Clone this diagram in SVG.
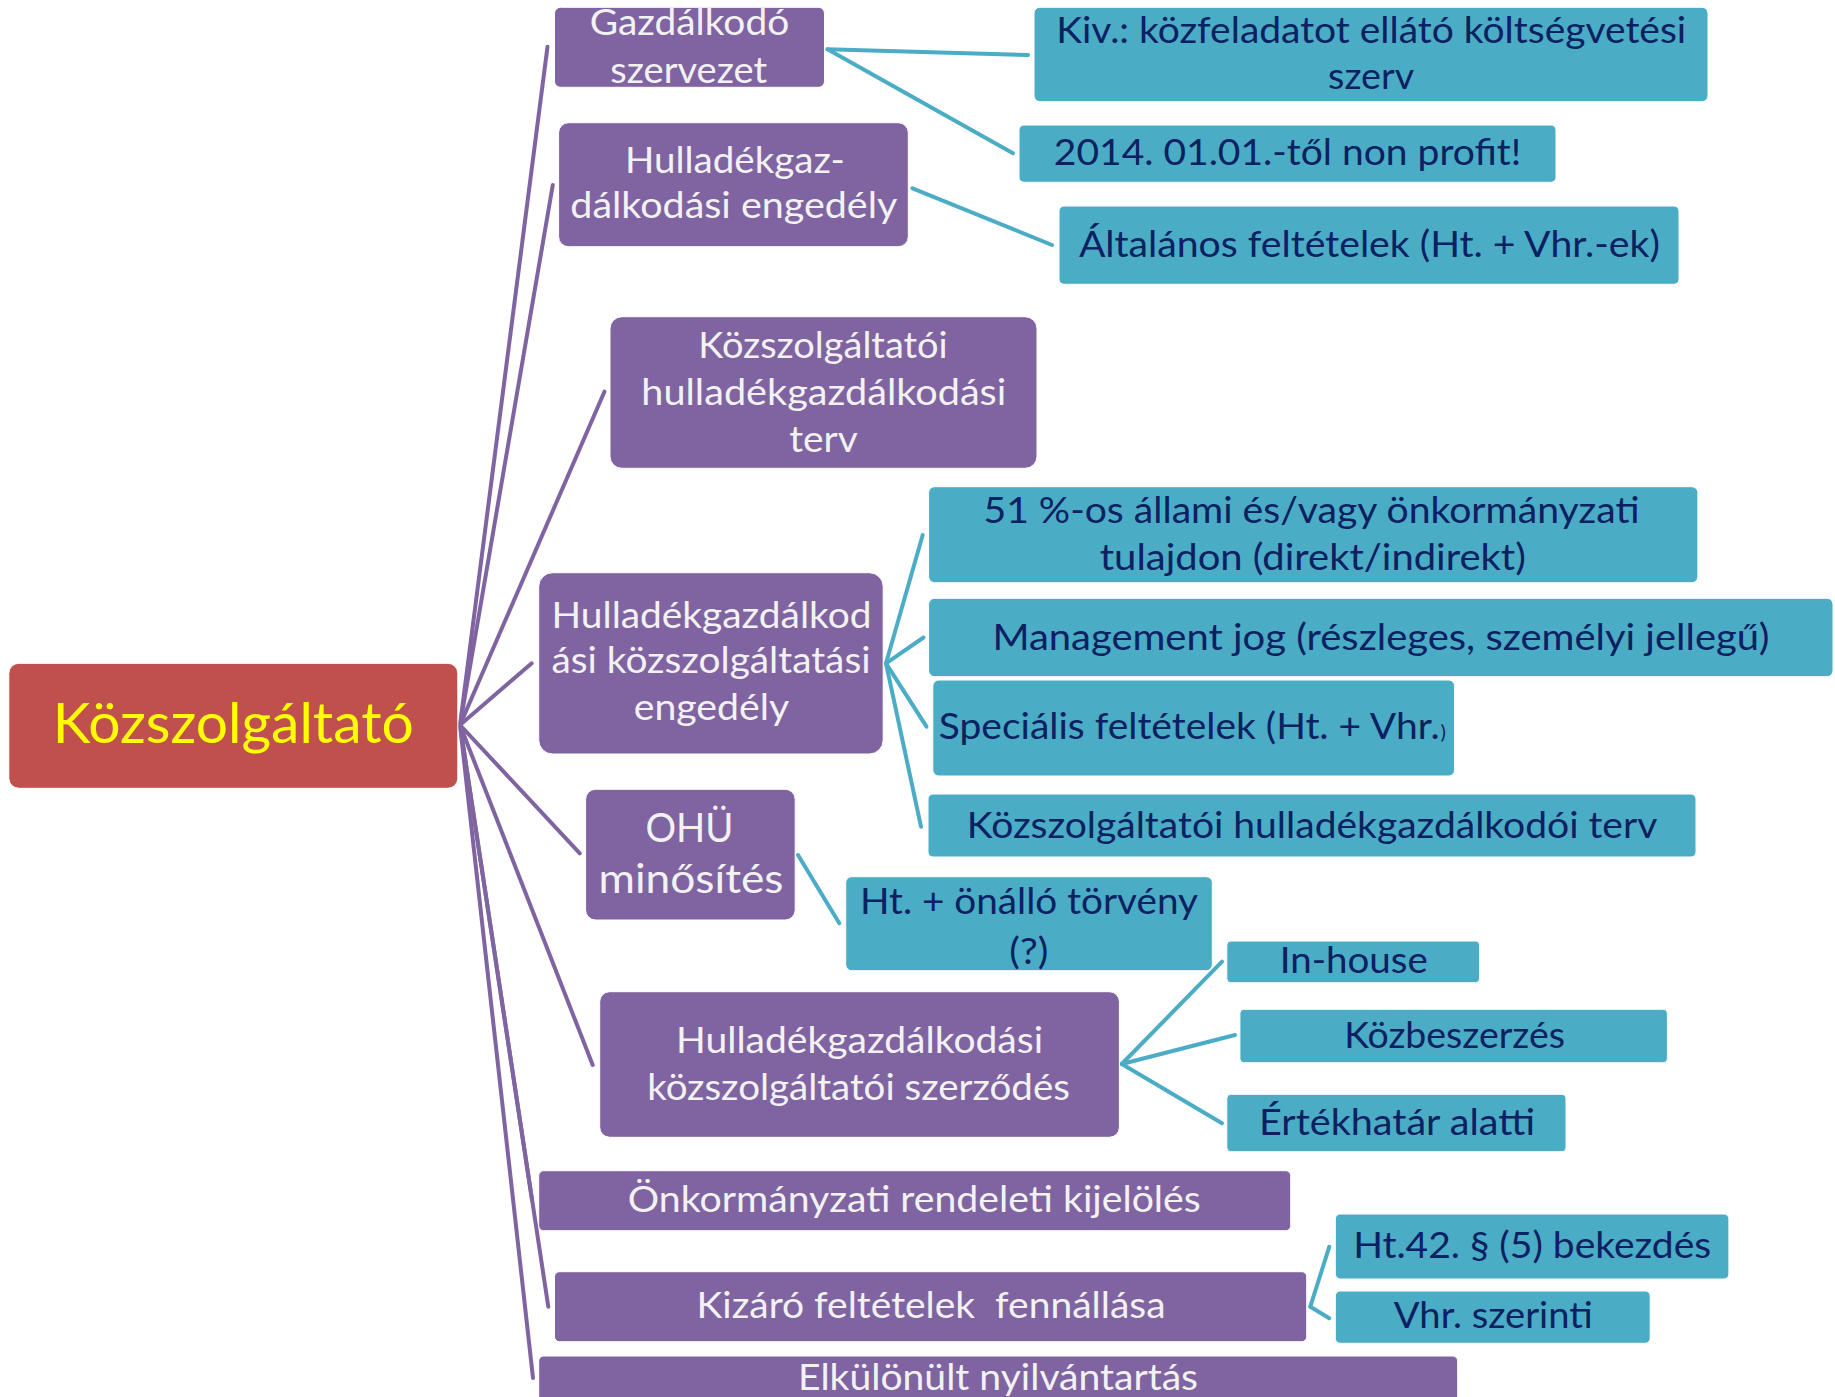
<svg xmlns="http://www.w3.org/2000/svg" width="1835" height="1397" viewBox="0 0 1835 1397">
<style>
.p{fill:#8064A2;stroke:#ffffff;stroke-width:1}
.r{fill:#C0504D;stroke:#ffffff;stroke-width:1}
.c{fill:#4BACC6;stroke:#ffffff;stroke-width:1}
.pl{stroke:#8064A2;stroke-width:4;fill:none;stroke-linecap:round}
.cl{stroke:#4BACC6;stroke-width:4;fill:none;stroke-linecap:round}
text{font-family:Lato,"Open Sans","Liberation Sans",sans-serif;font-size:36px}
.pt{fill:#F2F2F2}
.ct{fill:#0B2161}
</style>
<rect width="1835" height="1397" fill="#ffffff"/>
<g id="connectors">
<line class="pl" x1="460" y1="725" x2="547.5" y2="46.7"/>
<line class="pl" x1="460" y1="725" x2="552.8" y2="185"/>
<line class="pl" x1="460" y1="725" x2="604.4" y2="391.7"/>
<line class="pl" x1="460" y1="725" x2="531.7" y2="663.3"/>
<line class="pl" x1="460" y1="725" x2="579.8" y2="853.3"/>
<line class="pl" x1="460" y1="725" x2="592.7" y2="1065"/>
<line class="pl" x1="460" y1="725" x2="532" y2="1200"/>
<line class="pl" x1="460" y1="725" x2="548.3" y2="1306.7"/>
<line class="pl" x1="460" y1="725" x2="533" y2="1378"/>
<line class="cl" x1="827.5" y1="49.3" x2="1028" y2="55"/>
<line class="cl" x1="827.5" y1="49.3" x2="1013" y2="153.3"/>
<line class="cl" x1="912.5" y1="188.3" x2="1052" y2="245"/>
<line class="cl" x1="886" y1="663.3" x2="922.7" y2="535"/>
<line class="cl" x1="886" y1="663.3" x2="923.5" y2="637.5"/>
<line class="cl" x1="886" y1="663.3" x2="926.5" y2="726.7"/>
<line class="cl" x1="886" y1="663.3" x2="921" y2="826.7"/>
<line class="cl" x1="798" y1="855" x2="839.3" y2="923.3"/>
<line class="cl" x1="1121.8" y1="1064" x2="1222" y2="961.7"/>
<line class="cl" x1="1121.8" y1="1064" x2="1235" y2="1035"/>
<line class="cl" x1="1121.8" y1="1064" x2="1222" y2="1123.3"/>
<line class="cl" x1="1310.3" y1="1306.7" x2="1329.3" y2="1246.7"/>
<line class="cl" x1="1310.3" y1="1306.7" x2="1329.3" y2="1318.3"/>
</g>
<g id="root">
<rect class="r" x="8.8" y="663.3" width="449" height="125" rx="10"/>
<text x="52.8" y="743.3" style="font-size:57px;fill:#FFFF00" textLength="361" lengthAdjust="spacingAndGlyphs">Közszolgáltató</text>
</g>
<g id="n-gazdalkodo">
<rect class="p" x="554.5" y="7.3" width="270" height="80" rx="6"/>
<text class="pt" x="589.7" y="35" textLength="199.5" lengthAdjust="spacingAndGlyphs">Gazdálkodó</text>
<text class="pt" x="610.2" y="82.7" textLength="157" lengthAdjust="spacingAndGlyphs">szervezet</text>
</g>
<g id="n-hulladekgaz">
<rect class="p" x="558.6" y="122.7" width="349.7" height="124" rx="10"/>
<text class="pt" x="624.9" y="173.3" textLength="220" lengthAdjust="spacingAndGlyphs">Hulladékgaz-</text>
<text class="pt" x="570.3" y="218.3" textLength="327" lengthAdjust="spacingAndGlyphs">dálkodási engedély</text>
</g>
<g id="n-kozszolg-terv">
<rect class="p" x="610" y="316.7" width="427" height="151.6" rx="12"/>
<text class="pt" x="698.2" y="358.3" textLength="249.5" lengthAdjust="spacingAndGlyphs">Közszolgáltatói</text>
<text class="pt" x="641.3" y="405" textLength="365" lengthAdjust="spacingAndGlyphs">hulladékgazdálkodási</text>
<text class="pt" x="789.2" y="451.7" textLength="68.6" lengthAdjust="spacingAndGlyphs">terv</text>
</g>
<g id="n-engedely">
<rect class="p" x="538.7" y="572.7" width="344.5" height="181.3" rx="14"/>
<text class="pt" x="551.5" y="628.3" textLength="320" lengthAdjust="spacingAndGlyphs">Hulladékgazdálkod</text>
<text class="pt" x="551.5" y="673.3" textLength="319" lengthAdjust="spacingAndGlyphs">ási közszolgáltatási</text>
<text class="pt" x="633.7" y="720" textLength="155.5" lengthAdjust="spacingAndGlyphs">engedély</text>
</g>
<g id="n-ohu">
<rect class="p" x="585.6" y="789.3" width="209.6" height="130.7" rx="10"/>
<text class="pt" x="645.4" y="841.7" style="font-size:40px" textLength="88" lengthAdjust="spacingAndGlyphs">OHÜ</text>
<text class="pt" x="598.5" y="893.3" style="font-size:40px" textLength="185" lengthAdjust="spacingAndGlyphs">minősítés</text>
</g>
<g id="n-szerzodes">
<rect class="p" x="599.7" y="991.7" width="519.7" height="145.6" rx="10"/>
<text class="pt" x="676" y="1053.3" textLength="367" lengthAdjust="spacingAndGlyphs">Hulladékgazdálkodási</text>
<text class="pt" x="647.2" y="1100" textLength="422.7" lengthAdjust="spacingAndGlyphs">közszolgáltatói szerződés</text>
</g>
<g id="n-onkorm">
<rect class="p" x="538.7" y="1170.7" width="752" height="60" rx="5"/>
<text class="pt" x="627.8" y="1211.7" textLength="573" lengthAdjust="spacingAndGlyphs">Önkormányzati rendeleti kijelölés</text>
</g>
<g id="n-kizaro">
<rect class="p" x="554.5" y="1271.7" width="752.2" height="70" rx="5"/>
<text class="pt" x="696.5" y="1318.3" textLength="469" lengthAdjust="spacingAndGlyphs" xml:space="preserve">Kizáró feltételek  fennállása</text>
</g>
<g id="n-elkulonult">
<rect class="p" x="538.7" y="1356" width="919" height="60" rx="5"/>
<text class="pt" x="798" y="1390" textLength="400" lengthAdjust="spacingAndGlyphs">Elkülönült nyilvántartás</text>
</g>
<g id="n-kiv">
<rect class="c" x="1034" y="7.3" width="674" height="94.4" rx="6"/>
<text class="ct" x="1056.2" y="43.3" textLength="630" lengthAdjust="spacingAndGlyphs">Kiv.: közfeladatot ellátó költségvetési</text>
<text class="ct" x="1328.1" y="89.3" textLength="86" lengthAdjust="spacingAndGlyphs">szerv</text>
</g>
<g id="n-2014">
<rect class="c" x="1019" y="125" width="537" height="57.3" rx="5"/>
<text class="ct" x="1053.8" y="165" textLength="467.5" lengthAdjust="spacingAndGlyphs">2014. 01.01.-től non profit!</text>
</g>
<g id="n-altalanos">
<rect class="c" x="1059" y="206" width="620" height="78.3" rx="5"/>
<text class="ct" x="1078.9" y="256.7" textLength="581" lengthAdjust="spacingAndGlyphs">Általános feltételek (Ht. + Vhr.-ek)</text>
</g>
<g id="n-51">
<rect class="c" x="928.6" y="486.7" width="769.3" height="96" rx="6"/>
<text class="ct" x="983.5" y="523.3" textLength="656" lengthAdjust="spacingAndGlyphs">51 %-os állami és/vagy önkormányzati</text>
<text class="ct" x="1099.8" y="570" textLength="426" lengthAdjust="spacingAndGlyphs">tulajdon (direkt/indirekt)</text>
</g>
<g id="n-management">
<rect class="c" x="928.6" y="598.3" width="904.4" height="78.4" rx="6"/>
<text class="ct" x="992.4" y="650" textLength="777" lengthAdjust="spacingAndGlyphs">Management jog (részleges, személyi jellegű)</text>
</g>
<g id="n-specialis">
<rect class="c" x="932.8" y="680" width="521.8" height="96" rx="6"/>
<text class="ct" x="938.8" y="739.3" textLength="500.8" lengthAdjust="spacingAndGlyphs">Speciális feltételek (Ht. + Vhr.</text>
<text class="ct" x="1440.5" y="739.3" style="font-size:20px">)</text>
</g>
<g id="n-kozsz-terv2">
<rect class="c" x="928" y="794" width="768" height="63" rx="5"/>
<text class="ct" x="966.8" y="837.7" textLength="690.5" lengthAdjust="spacingAndGlyphs">Közszolgáltatói hulladékgazdálkodói terv</text>
</g>
<g id="n-ht">
<rect class="c" x="845.7" y="876.7" width="366.6" height="94" rx="6"/>
<text class="ct" x="860" y="914" textLength="338" lengthAdjust="spacingAndGlyphs">Ht. + önálló törvény</text>
<text class="ct" x="1009.3" y="964" textLength="39" lengthAdjust="spacingAndGlyphs">(?)</text>
</g>
<g id="n-inhouse">
<rect class="c" x="1226.8" y="941" width="252.8" height="41.7" rx="4"/>
<text class="ct" x="1279.8" y="973.3" textLength="148" lengthAdjust="spacingAndGlyphs">In-house</text>
</g>
<g id="n-kozbeszerzes">
<rect class="c" x="1239.9" y="1009.3" width="427.5" height="53.4" rx="4"/>
<text class="ct" x="1344.2" y="1048.3" textLength="220.7" lengthAdjust="spacingAndGlyphs">Közbeszerzés</text>
</g>
<g id="n-ertekhatar">
<rect class="c" x="1226.8" y="1094.3" width="339.2" height="57.4" rx="4"/>
<text class="ct" x="1259" y="1135" textLength="276" lengthAdjust="spacingAndGlyphs">Értékhatár alatti</text>
</g>
<g id="n-ht42">
<rect class="c" x="1335.3" y="1214" width="393.6" height="65" rx="5"/>
<text class="ct" x="1353.2" y="1258.3" textLength="358" lengthAdjust="spacingAndGlyphs">Ht.42. § (5) bekezdés</text>
</g>
<g id="n-vhr">
<rect class="c" x="1335.3" y="1291" width="314.9" height="52.3" rx="5"/>
<text class="ct" x="1393.7" y="1328.3" textLength="199" lengthAdjust="spacingAndGlyphs">Vhr. szerinti</text>
</g>
</svg>
